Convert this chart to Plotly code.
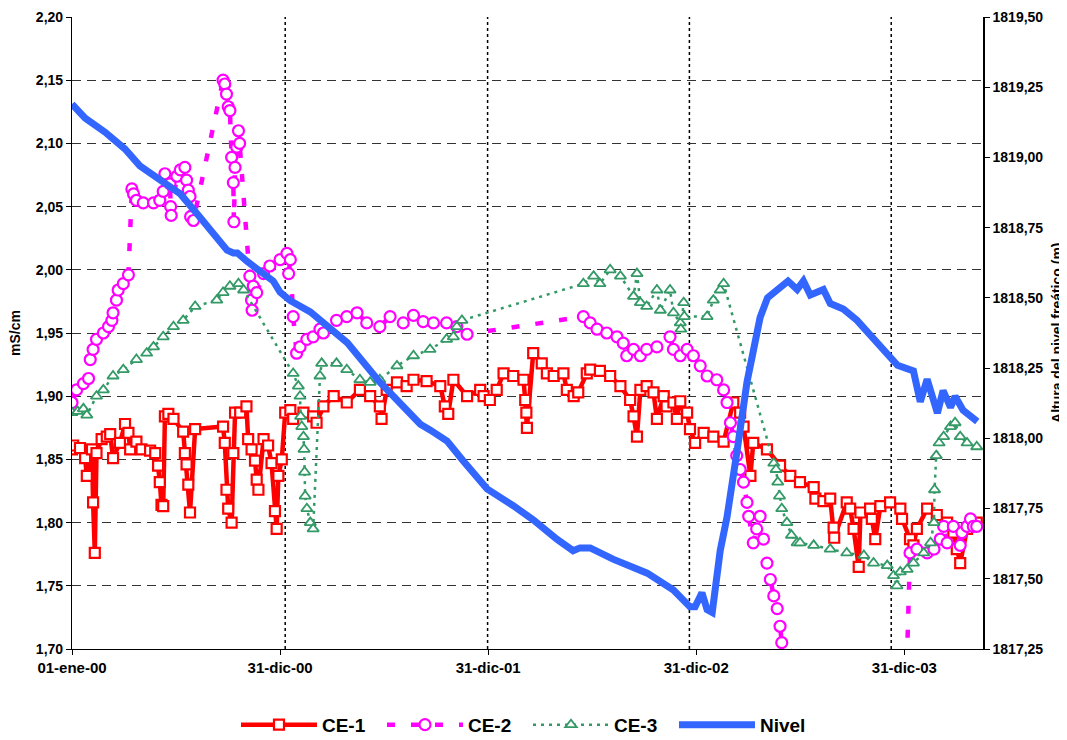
import pandas as pd
import plotly.graph_objects as go

START = "2000-01-01"

# ---- CE-1 (mS/cm) : days since 01-ene-00 ----
ce1_days = [0, 2, 14, 23, 26, 35, 37, 40, 43, 52, 61, 67, 72, 84, 93, 99, 102, 113, 122, 137,
            146, 151, 154, 157, 160, 163, 169, 178, 195, 198, 201, 204, 207, 216, 265, 268, 271, 274, 280, 283,
            286, 295, 306, 309, 315, 321, 324, 327, 336, 344, 350, 356, 359, 362, 368, 374, 383, 388, 406, 423,
            429, 441, 459, 482, 505, 523, 540, 543, 552, 570, 587, 599, 622, 646, 654, 660, 669, 693, 716, 722,
            733, 745, 757, 774, 792, 795, 797, 798, 809, 824, 833, 845, 862, 868, 880, 888, 903, 909, 926, 944,
            962, 979, 985, 991, 997, 1008, 1020, 1026, 1038, 1043, 1055, 1061, 1067, 1079, 1084, 1093, 1108, 1125, 1143, 1160,
            1172, 1178, 1190, 1195, 1219, 1242, 1260, 1277, 1301, 1304, 1318, 1330, 1336, 1337, 1359, 1365, 1371, 1380, 1383, 1400,
            1403, 1409, 1418, 1435, 1453, 1456, 1470, 1476, 1482, 1500, 1517, 1535, 1546, 1552, 1558, 1570, 1587]
ce1_vals = [1.858, 1.861, 1.859, 1.851, 1.837, 1.858, 1.816, 1.776, 1.855, 1.866, 1.868, 1.870, 1.851, 1.863, 1.878, 1.871, 1.858, 1.864, 1.858, 1.857,
            1.855, 1.845, 1.832, 1.814, 1.813, 1.884, 1.886, 1.882, 1.872, 1.855, 1.846, 1.830, 1.808, 1.874, 1.876, 1.863, 1.826, 1.811, 1.800, 1.855,
            1.887, 1.887, 1.892, 1.866, 1.858, 1.849, 1.834, 1.826, 1.866, 1.861, 1.847, 1.809, 1.795, 1.837, 1.850, 1.887, 1.889, 1.882, 1.887, 1.884,
            1.879, 1.892, 1.900, 1.895, 1.905, 1.900, 1.892, 1.882, 1.905, 1.911, 1.908, 1.913, 1.912, 1.908, 1.892, 1.886, 1.913, 1.900, 1.905, 1.900,
            1.897, 1.905, 1.918, 1.916, 1.913, 1.897, 1.887, 1.875, 1.934, 1.926, 1.918, 1.916, 1.918, 1.905, 1.900, 1.903, 1.918, 1.921, 1.920, 1.916,
            1.908, 1.897, 1.884, 1.868, 1.905, 1.908, 1.903, 1.882, 1.900, 1.892, 1.895, 1.882, 1.896, 1.887, 1.874, 1.863, 1.871, 1.868, 1.864, 1.895,
            1.887, 1.876, 1.837, 1.863, 1.858, 1.845, 1.837, 1.832, 1.828, 1.819, 1.817, 1.819, 1.796, 1.788, 1.816, 1.811, 1.795, 1.765, 1.808, 1.811,
            1.803, 1.787, 1.813, 1.816, 1.811, 1.803, 1.787, 1.782, 1.795, 1.811, 1.806, 1.800, 1.792, 1.779, 1.768, 1.795, 1.800]

# ---- CE-2 (mS/cm) ----
ce2_days = [0, 8, 20, 29, 32, 37, 43, 55, 64, 70, 72, 78, 81, 90, 99, 105, 108, 113, 125, 143,
            154, 160, 163, 172, 173, 174, 184, 190, 198, 201, 204, 207, 208, 213, 265, 268, 271, 274, 277, 280,
            283, 284, 286, 289, 292, 294, 312, 315, 316, 318, 324, 336, 347, 365, 377, 380, 383, 388, 394, 400,
            412, 423, 435, 441, 464, 482, 500, 517, 540, 558, 581, 599, 616, 634, 657, 675, 693, 897, 909, 921,
            938, 956, 967, 973, 985, 997, 1008, 1026, 1049, 1055, 1067, 1079, 1090, 1102, 1114, 1131, 1143, 1149, 1155, 1160,
            1166, 1172, 1178, 1184, 1187, 1195, 1201, 1207, 1213, 1219, 1225, 1231, 1237, 1242, 1245, 1460, 1470, 1482, 1500, 1512,
            1523, 1529, 1535, 1546, 1558, 1561, 1570, 1576, 1581, 1587]
ce2_vals = [1.895, 1.905, 1.910, 1.914, 1.929, 1.937, 1.945, 1.950, 1.955, 1.960, 1.966, 1.976, 1.984, 1.989, 1.996, 2.064, 2.060, 2.055, 2.053, 2.053,
            2.055, 2.062, 2.076, 2.068, 2.050, 2.043, 2.074, 2.079, 2.081, 2.071, 2.063, 2.058, 2.042, 2.039, 2.150, 2.147, 2.139, 2.129, 2.126, 2.089,
            2.069, 2.038, 2.081, 2.097, 2.110, 2.100, 1.995, 1.976, 1.968, 1.987, 1.982, 1.997, 2.003, 2.008, 2.013, 1.997, 2.008, 1.963, 1.934, 1.939,
            1.945, 1.947, 1.953, 1.950, 1.960, 1.963, 1.966, 1.958, 1.955, 1.963, 1.958, 1.964, 1.959, 1.958, 1.958, 1.955, 1.949, 1.963, 1.958, 1.953,
            1.950, 1.947, 1.942, 1.932, 1.937, 1.932, 1.937, 1.939, 1.947, 1.937, 1.932, 1.937, 1.932, 1.924, 1.916, 1.913, 1.905, 1.895, 1.879, 1.868,
            1.853, 1.842, 1.832, 1.816, 1.805, 1.784, 1.795, 1.805, 1.787, 1.768, 1.755, 1.742, 1.732, 1.718, 1.705, 1.620, 1.776, 1.779, 1.776, 1.779,
            1.787, 1.797, 1.784, 1.797, 1.782, 1.792, 1.797, 1.803, 1.797, 1.797]

# ---- CE-3 (mS/cm) ----
ce3_days = [0, 10, 20, 26, 43, 55, 72, 90, 113, 131, 143, 160, 178, 195, 216, 254, 265, 277, 292, 301,
            388, 397, 400, 401, 403, 406, 407, 408, 409, 412, 418, 423, 435, 438, 464, 482, 505, 523, 540, 570,
            599, 628, 657, 669, 675, 684, 897, 915, 926, 944, 962, 985, 991, 997, 1008, 1026, 1032, 1049, 1055, 1067,
            1068, 1073, 1074, 1114, 1125, 1137, 1143, 1231, 1235, 1238, 1241, 1245, 1254, 1262, 1272, 1277, 1301, 1330, 1359, 1389,
            1406, 1430, 1441, 1447, 1453, 1465, 1476, 1494, 1506, 1512, 1513, 1516, 1521, 1529, 1541, 1549, 1558, 1570, 1587]
ce3_vals = [1.887, 1.888, 1.890, 1.885, 1.900, 1.905, 1.916, 1.921, 1.929, 1.934, 1.939, 1.947, 1.955, 1.960, 1.971, 1.976, 1.982, 1.987, 1.989, 1.984,
            1.918, 1.908, 1.900, 1.884, 1.876, 1.868, 1.858, 1.840, 1.821, 1.811, 1.800, 1.795, 1.916, 1.926, 1.926, 1.921, 1.913, 1.911, 1.913, 1.924,
            1.932, 1.937, 1.945, 1.947, 1.955, 1.960, 1.989, 1.995, 1.989, 2.000, 1.995, 1.979, 1.997, 1.974, 1.971, 1.984, 1.968, 1.984, 1.966, 1.958,
            1.953, 1.974, 1.963, 1.963, 1.976, 1.984, 1.989, 1.847, 1.842, 1.832, 1.821, 1.811, 1.800, 1.790, 1.784, 1.784, 1.782, 1.779, 1.776, 1.774,
            1.768, 1.766, 1.758, 1.750, 1.761, 1.763, 1.768, 1.776, 1.784, 1.800, 1.826, 1.853, 1.863, 1.868, 1.876, 1.879, 1.868, 1.863, 1.860]

# ---- Nivel (m) ----
nivel_days = [0, 23, 58, 93, 119, 154, 190, 219, 254, 272, 283, 290, 307, 335, 353, 365, 383, 418, 440, 483,
              540, 570, 611, 628, 658, 686, 728, 774, 809, 851, 879, 891, 909, 949, 1009, 1055, 1084, 1093, 1105, 1114,
              1123, 1137, 1149, 1167, 1184, 1195, 1207, 1220, 1242, 1256, 1272, 1283, 1295, 1318, 1330, 1353, 1377, 1395, 1413, 1435,
              1448, 1476, 1488, 1500, 1518, 1528, 1541, 1549, 1563, 1588]
nivel_vals = [1819.19, 1819.14, 1819.09, 1819.03, 1818.97, 1818.92, 1818.87, 1818.80, 1818.72, 1818.67,
              1818.66, 1818.66, 1818.63, 1818.59, 1818.56, 1818.52, 1818.49, 1818.45, 1818.41, 1818.34,
              1818.20, 1818.14, 1818.05, 1818.03, 1817.99, 1817.92, 1817.82, 1817.76, 1817.71, 1817.64,
              1817.60, 1817.61, 1817.61, 1817.57, 1817.52, 1817.46, 1817.40, 1817.40, 1817.45, 1817.39,
              1817.38, 1817.60, 1817.72, 1817.96, 1818.20, 1818.31, 1818.43, 1818.50, 1818.54, 1818.56,
              1818.53, 1818.56, 1818.51, 1818.53, 1818.48, 1818.46, 1818.42, 1818.38, 1818.34, 1818.29,
              1818.26, 1818.24, 1818.13, 1818.21, 1818.09, 1818.17, 1818.11, 1818.15, 1818.10, 1818.06]

# ---- axis ticks ----
x_tick_dates = ["2000-01-01", "2000-12-31", "2001-12-31", "2002-12-31", "2003-12-31"]
x_tick_text = ["01-ene-00", "31-dic-00", "31-dic-01", "31-dic-02", "31-dic-03"]
x_range = ["2000-01-01", "2004-05-17"]
vline_dates = ["2001-01-09", "2001-12-30", "2002-12-19", "2003-12-08"]


def to_dates(days):
    return pd.Timestamp(START) + pd.to_timedelta(days, unit="D")


FONT = "Liberation Sans, Arial, sans-serif"
RED = "#ff0000"
MAG = "#ff00ff"
GREEN = "#339966"
BLUE = "#3366ff"

fig = go.Figure()
fig.add_trace(go.Scatter(
    x=to_dates(ce1_days), y=ce1_vals, name="CE-1", mode="lines+markers",
    line=dict(color=RED, width=4.5),
    marker=dict(symbol="square", size=10, color="white", line=dict(color=RED, width=2.2))))
fig.add_trace(go.Scatter(
    x=to_dates(ce2_days), y=ce2_vals, name="CE-2", mode="lines+markers",
    line=dict(color=MAG, width=4.5, dash="8px,16px"),
    marker=dict(symbol="circle", size=11, color="white", line=dict(color=MAG, width=2.2))))
fig.add_trace(go.Scatter(
    x=to_dates(ce3_days), y=ce3_vals, name="CE-3", mode="lines+markers",
    line=dict(color=GREEN, width=2.5, dash="3px,5px"),
    marker=dict(symbol="triangle-up", size=10, color="white", line=dict(color=GREEN, width=1.8))))
fig.add_trace(go.Scatter(
    x=to_dates(nivel_days), y=nivel_vals, name="Nivel", mode="lines", yaxis="y2",
    line=dict(color=BLUE, width=7)))

for d in vline_dates:
    fig.add_shape(type="line", xref="x", yref="paper", x0=d, x1=d, y0=0, y1=1,
                  line=dict(color="black", width=1.5, dash="dot"), layer="below")

TITLE_FONT = dict(size=14, weight="bold", family=FONT, color="black")
fig.add_annotation(text="mS/cm", xref="paper", yref="paper", x=-0.0626, y=0.5,
                   xanchor="center", yanchor="middle", textangle=-90, showarrow=False,
                   font=TITLE_FONT)
fig.add_annotation(text="Altura del nivel freático (m)", xref="paper", yref="paper", x=1.0812, y=0.5,
                   xanchor="center", yanchor="middle", textangle=-90, showarrow=False,
                   font=TITLE_FONT)

TICK_Y = dict(size=14, weight="bold", family=FONT, color="black")
# page has an 8px body margin: the figure starts at (8, 8) of the window, so it is
# sized to end exactly at the window edges and the plot area lands at x 72..983, y 17..649
fig.update_layout(
    width=1059, height=732,
    margin=dict(l=64, r=84, t=9, b=91, autoexpand=False),
    paper_bgcolor="white", plot_bgcolor="white",
    separators=",.",
    font=dict(family=FONT, color="black", size=13),
    showlegend=True,
    legend=dict(orientation="h", x=0.180, xanchor="left", y=-0.12, yanchor="middle",
                font=dict(size=19, weight="bold", family=FONT, color="black"),
                itemwidth=76, entrywidth=55, entrywidthmode="pixels", traceorder="normal"),
    xaxis=dict(type="date", range=x_range, tickvals=x_tick_dates, ticktext=x_tick_text,
               showgrid=False, zeroline=False, showline=True, linecolor="black", linewidth=1.2,
               ticks="outside", ticklen=5, tickcolor="black", automargin=False,
               tickfont=dict(size=15, weight="bold", family=FONT, color="black")),
    yaxis=dict(range=[1.70, 2.20], dtick=0.05, tick0=1.70, tickformat=".2f",
               showgrid=True, gridcolor="#333333", gridwidth=1, griddash="9px,6px",
               zeroline=False, showline=True, linecolor="black", linewidth=1.2,
               ticks="outside", ticklen=5, tickcolor="black", automargin=False,
               tickfont=TICK_Y),
    yaxis2=dict(range=[1817.25, 1819.50], dtick=0.25, tick0=1817.25, tickformat=".2f",
                overlaying="y", side="right", showgrid=False, zeroline=False,
                showline=True, linecolor="black", linewidth=1.5,
                ticks="outside", ticklen=5, tickcolor="black", automargin=False,
                tickfont=TICK_Y),
)

fig.write_html("out.html")
